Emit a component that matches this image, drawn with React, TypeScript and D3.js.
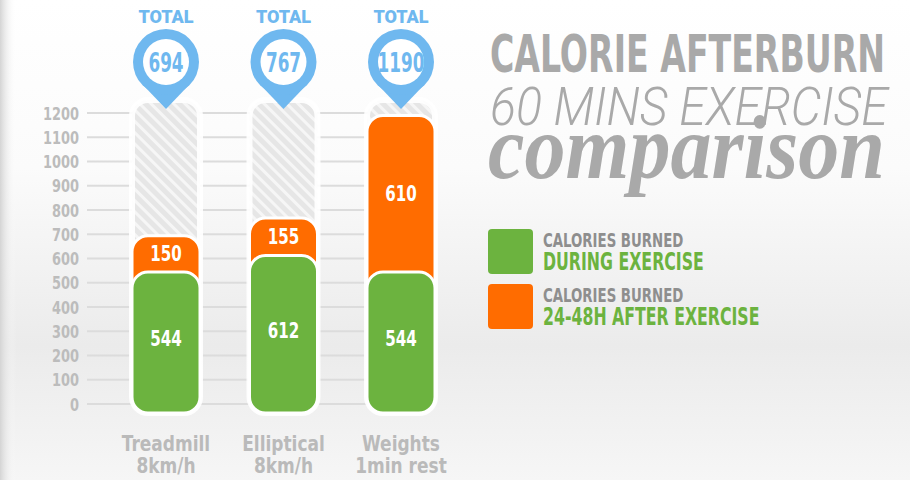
import React from 'react';
import * as d3 from 'd3';

const categories = ['Treadmill', 'Elliptical', 'Weights'];
const subLabels = ['8km/h', '8km/h', '1min rest'];
const during = [544, 612, 544];
const after = [150, 155, 610];
const totals = [694, 767, 1190];
const yTicks = [0, 100, 200, 300, 400, 500, 600, 700, 800, 900, 1000, 1100, 1200];
const legendItems = [
  { top: 'CALORIES BURNED', bottom: 'DURING EXERCISE', color: '#6cb33f' },
  { top: 'CALORIES BURNED', bottom: '24-48H AFTER EXERCISE', color: '#ff6c00' },
];

const W = 910;
const H = 480;
const GREEN = '#6cb33f';
const ORANGE = '#ff6c00';
const BLUE = '#6fb8ef';
const NARROW = "'DejaVu Sans Condensed', 'DejaVu Sans', sans-serif";

// squeeze the condensed face further so it looks like the poster's narrow type
const squeeze = (x: number, y: number, sx: number) => `translate(${x},${y}) scale(${sx},1)`;

export default function App() {
  const y = d3.scaleLinear().domain([0, 1200]).range([404, 113]);
  const x = d3.scalePoint<string>().domain(categories).range([166, 401]);
  const barW = 68;
  const r = 16;
  const bottom = y(0) + 9;

  return (
    <svg
      width={W}
      height={H}
      style={{ position: 'absolute', left: 0, top: 0 }}
      fontFamily={NARROW}
    >
      <defs>
        <linearGradient id="bg" x1="0" y1="0" x2="0" y2="1">
          <stop offset="0" stopColor="#ffffff" />
          <stop offset="0.35" stopColor="#fbfbfb" />
          <stop offset="0.72" stopColor="#ebebeb" />
          <stop offset="1" stopColor="#f6f6f6" />
        </linearGradient>
        <linearGradient id="edge" x1="0" y1="0" x2="1" y2="0">
          <stop offset="0" stopColor="#d4d4d4" stopOpacity="1" />
          <stop offset="1" stopColor="#ffffff" stopOpacity="0" />
        </linearGradient>
        <pattern
          id="hatch"
          width="8"
          height="8"
          patternUnits="userSpaceOnUse"
          patternTransform="rotate(-45)"
        >
          <rect width="8" height="8" fill="#e6e6e6" />
          <rect width="3" height="8" fill="#f6f6f6" />
        </pattern>
      </defs>

      <rect width={W} height={H} fill="url(#bg)" />
      <rect width={16} height={H} fill="url(#edge)" />

      {/* gridlines and y ticks */}
      {yTicks.map((t) => (
        <g key={t}>
          <line
            x1={87}
            x2={x(categories[categories.length - 1])}
            y1={y(t)}
            y2={y(t)}
            stroke="#dcdcdc"
            strokeWidth={2}
          />
          <text
            transform={squeeze(79, y(t) + 6.5, 0.8)}
            textAnchor="end"
            fontSize={18}
            fontWeight="bold"
            fill="#bcbcbc"
          >
            {t}
          </text>
        </g>
      ))}

      {categories.map((c, i) => {
        const cx = x(c) as number;
        const left = cx - barW / 2;
        const topGreen = y(during[i]);
        const topTotal = y(totals[i]);
        return (
          <g key={c}>
            {/* hatched background column */}
            <rect
              x={left}
              y={100}
              width={barW}
              height={bottom - 100}
              rx={r}
              fill="url(#hatch)"
              stroke="#ffffff"
              strokeWidth={6}
              strokeOpacity={0.9}
            />
            {/* after-exercise segment */}
            <rect
              x={left}
              y={topTotal}
              width={barW}
              height={topGreen - topTotal + 24}
              rx={r}
              fill={ORANGE}
              stroke="#ffffff"
              strokeWidth={3}
            />
            {/* during-exercise segment */}
            <rect
              x={left}
              y={topGreen}
              width={barW}
              height={bottom - topGreen}
              rx={r}
              fill={GREEN}
              stroke="#ffffff"
              strokeWidth={3}
            />
            <text
              transform={squeeze(cx, (topGreen + y(0)) / 2 + 8, 0.8)}
              textAnchor="middle"
              fontSize={21}
              fontWeight="bold"
              fill="#ffffff"
            >
              {during[i]}
            </text>
            <text
              transform={squeeze(cx, (topTotal + topGreen) / 2 + 7, 0.8)}
              textAnchor="middle"
              fontSize={21}
              fontWeight="bold"
              fill="#ffffff"
            >
              {after[i]}
            </text>

            {/* total pin */}
            <path
              d={`M${cx - 22},86 L${cx + 22},86 L${cx},109 Z`}
              fill={BLUE}
            />
            <circle cx={cx} cy={62} r={33} fill={BLUE} />
            <circle cx={cx} cy={62} r={23} fill="#ffffff" />
            <text
              transform={squeeze(cx, 71.5, 0.72)}
              textAnchor="middle"
              fontSize={26}
              fontWeight="bold"
              fill={BLUE}
            >
              {totals[i]}
            </text>
            <text
              x={cx}
              y={23}
              textAnchor="middle"
              fontSize={18}
              fontWeight="900"
              fontFamily="Roboto, sans-serif"
              fill={BLUE}
            >
              TOTAL
            </text>

            {/* x labels */}
            <text
              transform={squeeze(cx, 451, 0.86)}
              textAnchor="middle"
              fontSize={22}
              fontWeight="bold"
              fill="#bababa"
            >
              {c}
            </text>
            <text
              transform={squeeze(cx, 473, 0.86)}
              textAnchor="middle"
              fontSize={22}
              fontWeight="bold"
              fill="#bababa"
            >
              {subLabels[i]}
            </text>
          </g>
        );
      })}

      {/* title */}
      <text
        transform={squeeze(490, 72, 0.7)}
        fontSize={51}
        fontWeight="bold"
        fill="#a9a9a9"
        textLength={395 / 0.7}
        lengthAdjust="spacingAndGlyphs"
      >
        CALORIE AFTERBURN
      </text>
      <text
        transform={squeeze(490, 125, 0.84)}
        fontSize={54}
        fontWeight="300"
        fontStyle="italic"
        fontFamily="Roboto, sans-serif"
        fill="#a9a9a9"
        textLength={398 / 0.84}
        lengthAdjust="spacingAndGlyphs"
      >
        60 MINS EXERCISE
      </text>
      <text
        transform={squeeze(488, 178, 0.89)}
        fontSize={92}
        fontWeight="bold"
        fontStyle="italic"
        fontFamily="'Liberation Serif', 'DejaVu Serif', serif"
        fill="#a9a9a9"
        textLength={397 / 0.89}
        lengthAdjust="spacingAndGlyphs"
      >
        comparison
      </text>

      {/* legend */}
      {legendItems.map((d, i) => {
        const ty = 229 + i * 55;
        return (
          <g key={d.bottom}>
            <rect x={488} y={ty} width={45} height={45} rx={4} fill={d.color} />
            <text
              transform={squeeze(543, ty + 18, 0.78)}
              fontSize={19}
              fontWeight="bold"
              fill="#8e8e8e"
            >
              {d.top}
            </text>
            <text
              transform={squeeze(543, ty + 41, 0.73)}
              fontSize={24}
              fontWeight="bold"
              fill={GREEN}
            >
              {d.bottom}
            </text>
          </g>
        );
      })}
    </svg>
  );
}
